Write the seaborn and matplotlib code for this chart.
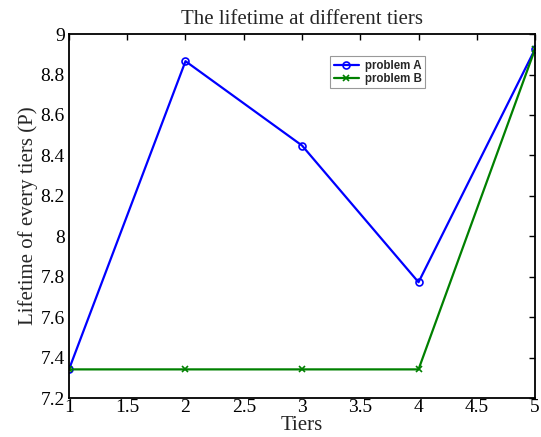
import pandas as pd
import matplotlib
matplotlib.use('Agg')
import matplotlib.pyplot as plt
import seaborn as sns

tiers = [1, 2, 3, 4, 5]
problem_a = [7.342, 8.866, 8.449, 7.773, 8.926]
problem_b = [7.342, 7.342, 7.342, 7.342, 8.926]

sns.set_theme(style="white")
plt.rcParams['font.family'] = ['Liberation Serif', 'DejaVu Serif']

da = pd.DataFrame({'Tiers': tiers, 'Lifetime': problem_a})
db = pd.DataFrame({'Tiers': tiers, 'Lifetime': problem_b})

fig = plt.figure(figsize=(5.41, 4.37), dpi=100)
ax = fig.add_axes([0.1275, 0.089, 0.8615, 0.833])

sns.lineplot(data=da, x='Tiers', y='Lifetime', color='#0000ff', marker='o',
             markersize=5, markerfacecolor='none', markeredgecolor='#0000ff',
             markeredgewidth=1.2, linewidth=1.6, label='problem A', ax=ax)
sns.lineplot(data=db, x='Tiers', y='Lifetime', color='#008000', marker='x',
             markersize=4, markeredgecolor='#008000', markeredgewidth=1.2,
             linewidth=1.6, label='problem B', ax=ax)

ax.set_xlim(1, 5)
ax.set_ylim(7.2, 9)
ax.set_xticks([1, 1.5, 2, 2.5, 3, 3.5, 4, 4.5, 5])
ax.set_xticklabels(['1', '1.5', '2', '2.5', '3', '3.5', '4', '4.5', '5'])
ax.set_yticks([7.2, 7.4, 7.6, 7.8, 8, 8.2, 8.4, 8.6, 8.8, 9])
ax.set_yticklabels(['7.2', '7.4', '7.6', '7.8', '8', '8.2', '8.4', '8.6', '8.8', '9'])
ax.tick_params(direction='in', length=4, width=1, top=True, right=True,
               labelsize=14, colors='black')
ax.tick_params(axis='x', pad=1)
ax.tick_params(axis='y', pad=3)
for s in ax.spines.values():
    s.set_color('black')
    s.set_linewidth(1.3)

ax.set_title('The lifetime at different tiers', fontsize=15, pad=7)
ax.set_xlabel('Tiers', fontsize=15, labelpad=0)
ax.set_ylabel('Lifetime of every tiers (P)', fontsize=15, labelpad=2)

leg = ax.legend(loc='upper left', bbox_to_anchor=(0.548, 0.955), frameon=True,
                fancybox=False, edgecolor='gray', handlelength=2.2,
                borderpad=0.3, labelspacing=0.1, handletextpad=0.5,
                prop={'family': 'Liberation Sans', 'weight': 'bold', 'size': 8.3})
leg.get_frame().set_linewidth(0.8)

fig.savefig('out.png', dpi=100)
